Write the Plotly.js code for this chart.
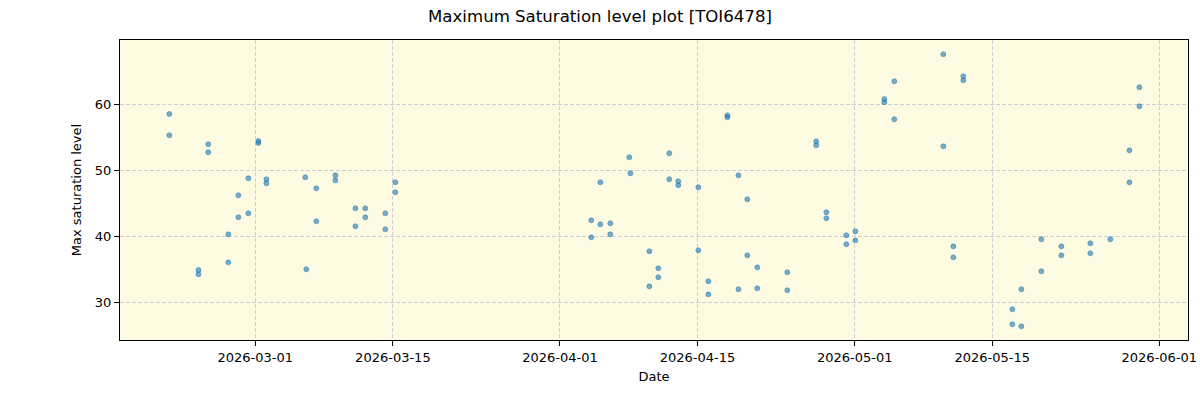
<!DOCTYPE html>
<html><head><meta charset="utf-8">
<script src="https://cdn.plot.ly/plotly-3.0.1.min.js"></script>
<style>body{margin:0;background:#fff}#chart{width:1200px;height:400px}</style>
</head><body><div id="chart"></div>
<script>
const dates = [
 "2026-02-20 06:00","2026-02-20 06:00","2026-02-23 05:00","2026-02-23 05:00","2026-02-24 05:00","2026-02-24 05:00",
 "2026-02-26 06:00","2026-02-26 06:00","2026-02-27 06:30","2026-02-27 06:30","2026-02-28 07:00","2026-02-28 07:00",
 "2026-03-01 07:30","2026-03-01 07:30","2026-03-02 03:00","2026-03-02 03:00","2026-03-06 02:00","2026-03-06 04:30",
 "2026-03-07 05:00","2026-03-07 05:00","2026-03-09 03:30","2026-03-09 03:30","2026-03-11 04:30","2026-03-11 04:30",
 "2026-03-12 04:30","2026-03-12 04:30","2026-03-14 05:30","2026-03-14 05:30","2026-03-15 06:00","2026-03-15 06:00",
 "2026-04-04 04:30","2026-04-04 04:30","2026-04-05 02:40","2026-04-05 02:40","2026-04-06 03:00","2026-04-06 03:00",
 "2026-04-08 01:30","2026-04-08 04:00","2026-04-10 02:30","2026-04-10 02:30","2026-04-11 00:15","2026-04-11 00:15",
 "2026-04-12 03:00","2026-04-12 03:00","2026-04-13 01:00","2026-04-13 01:00","2026-04-15 02:00","2026-04-15 02:00",
 "2026-04-16 02:30","2026-04-16 02:30","2026-04-18 01:00","2026-04-18 01:00","2026-04-19 04:00","2026-04-19 04:00",
 "2026-04-20 01:40","2026-04-20 01:40","2026-04-21 02:00","2026-04-21 02:00","2026-04-24 03:20","2026-04-24 03:20",
 "2026-04-27 02:00","2026-04-27 02:00","2026-04-28 02:40","2026-04-28 02:40","2026-04-30 03:30","2026-04-30 03:30",
 "2026-05-01 01:30","2026-05-01 01:30",
 "2026-05-04 00:15","2026-05-04 00:15","2026-05-05 00:45","2026-05-05 00:45","2026-05-10 00:30","2026-05-10 00:30",
 "2026-05-11 01:00","2026-05-11 01:00","2026-05-12 01:10","2026-05-12 01:10","2026-05-17 01:00","2026-05-17 01:00",
 "2026-05-17 23:00","2026-05-17 23:00","2026-05-19 23:45","2026-05-19 23:45","2026-05-22 00:45","2026-05-22 00:45",
 "2026-05-24 23:30","2026-05-24 23:30","2026-05-27 00:15","2026-05-28 23:00","2026-05-28 23:00","2026-05-29 23:15","2026-05-29 23:15"
];
const maxSat = [
 58.53,55.30,34.89,34.24,53.94,52.73,
 40.30,36.06,46.21,42.88,48.79,43.48,
 54.44,54.14,48.64,48.03,48.94,35.00,
 47.27,42.27,49.24,48.48,44.24,41.52,
 44.24,42.88,43.48,41.06,48.18,46.67,
 42.42,39.85,48.18,41.82,41.97,40.30,
 51.97,49.55,37.73,32.42,35.15,33.79,
 52.58,48.64,48.33,47.73,47.42,37.88,
 33.18,31.21,58.33,58.03,49.24,31.97,
 45.61,37.12,35.30,32.12,34.55,31.82,
 54.39,53.79,43.64,42.73,40.15,38.79,
 40.76,39.39,
 60.80,60.30,63.48,57.73,67.58,53.64,
 38.48,36.82,64.24,63.64,28.94,26.67,
 31.97,26.36,39.55,34.70,38.48,37.12,
 38.94,37.42,39.55,53.03,48.18,62.58,59.70
];
const tickDates = ["2026-03-01","2026-03-15","2026-04-01","2026-04-15","2026-05-01","2026-05-15","2026-06-01"];
const yTicks = [30,40,50,60];

const ff = "DejaVu Sans, sans-serif";
const gridCol = "#cfcfd8";
Plotly.newPlot("chart", [{
  x: dates, y: maxSat, type:"scatter", mode:"markers",
  marker:{size:5, color:"rgba(31,119,180,0.6)", line:{color:"rgba(31,119,180,0.8)", width:0.6}},
  hoverinfo:"x+y"
}], {
  width:1200, height:400,
  margin:{l:120, r:12, t:40, b:60},
  paper_bgcolor:"#ffffff", plot_bgcolor:"#fdfbe2",
  font:{family:ff, size:13, color:"#000"},
  title:{text:"Maximum Saturation level plot [TOI6478]", x:0.5, xanchor:"center", y:0.96, yanchor:"middle", font:{family:ff, size:16.6, color:"#000"}},
  showlegend:false,
  xaxis:{
    type:"date", range:["2026-02-15 05:30","2026-06-03 22:00"],
    tickmode:"array", tickvals:tickDates, ticktext:tickDates,
    ticks:"outside", ticklen:5, tickcolor:"#000", tickwidth:1,
    showgrid:true, gridcolor:gridCol, griddash:"4px,2px", gridwidth:1,
    showline:true, linecolor:"#000", linewidth:1, mirror:true, zeroline:false,
    tickfont:{family:ff, size:13, color:"#000"},
    title:{text:"Date", font:{family:ff, size:13, color:"#000"}, standoff:8}
  },
  yaxis:{
    range:[24.29, 69.74],
    tickmode:"array", tickvals:yTicks,
    ticks:"outside", ticklen:5, tickcolor:"#000", tickwidth:1,
    showgrid:true, gridcolor:gridCol, griddash:"4px,2px", gridwidth:1,
    showline:true, linecolor:"#000", linewidth:1, mirror:true, zeroline:false,
    tickfont:{family:ff, size:13, color:"#000"},
    title:{text:"Max saturation level", font:{family:ff, size:13, color:"#000"}, standoff:10}
  }
}, {displayModeBar:false, staticPlot:true});
</script></body></html>
